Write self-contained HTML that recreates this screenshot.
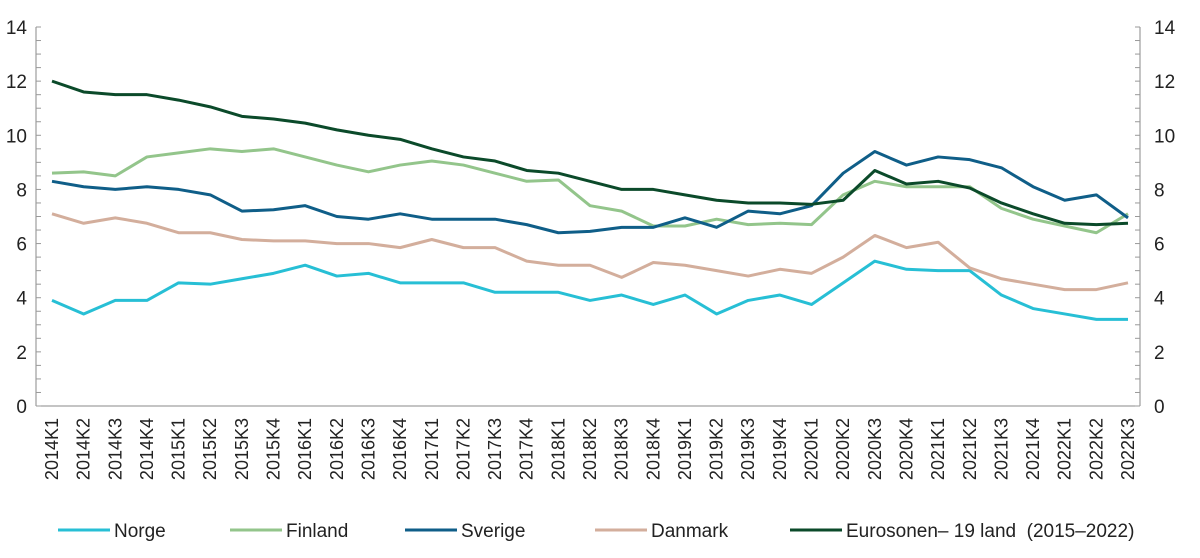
<!DOCTYPE html>
<html><head><meta charset="utf-8"><style>
body{margin:0;background:#fff;}
svg{display:block;font-family:"Liberation Sans",sans-serif;}
</style></head><body>
<svg id="chart" width="1200" height="558" viewBox="0 0 1200 558"></svg>
<script>
const categories=[];
for(let y=2014;y<=2022;y++){for(let q=1;q<=4;q++){if(y===2022&&q===4)break;categories.push(y+'K'+q);}}
const yTicks=[0,2,4,6,8,10,14,12];
const seriesNames=['Norge','Finland','Sverige','Danmark','Eurosonen– 19 land\u00a0\u00a0(2015–2022)'];
const norge=[3.9,3.4,3.9,3.9,4.55,4.5,4.7,4.9,5.2,4.8,4.9,4.55,4.55,4.55,4.2,4.2,4.2,3.9,4.1,3.75,4.1,3.4,3.9,4.1,3.75,4.55,5.35,5.05,5.0,5.0,4.1,3.6,3.4,3.2,3.2];
const finland=[8.6,8.65,8.5,9.2,9.35,9.5,9.4,9.5,9.2,8.9,8.65,8.9,9.05,8.9,8.6,8.3,8.35,7.4,7.2,6.65,6.65,6.9,6.7,6.75,6.7,7.8,8.3,8.1,8.1,8.1,7.3,6.9,6.65,6.4,7.1];
const sverige=[8.3,8.1,8.0,8.1,8.0,7.8,7.2,7.25,7.4,7.0,6.9,7.1,6.9,6.9,6.9,6.7,6.4,6.45,6.6,6.6,6.95,6.6,7.2,7.1,7.4,8.6,9.4,8.9,9.2,9.1,8.8,8.1,7.6,7.8,6.95];
const danmark=[7.1,6.75,6.95,6.75,6.4,6.4,6.15,6.1,6.1,6.0,6.0,5.85,6.15,5.85,5.85,5.35,5.2,5.2,4.75,5.3,5.2,5.0,4.8,5.05,4.9,5.5,6.3,5.85,6.05,5.1,4.7,4.5,4.3,4.3,4.55];
const euro=[12.0,11.6,11.5,11.5,11.3,11.05,10.7,10.6,10.45,10.2,10.0,9.85,9.5,9.2,9.05,8.7,8.6,8.3,8.0,8.0,7.8,7.6,7.5,7.5,7.45,7.6,8.7,8.2,8.3,8.05,7.5,7.1,6.75,6.7,6.75];

const NS='http://www.w3.org/2000/svg';
const svg=document.getElementById('chart');
const L=36,R=1140,T=27,B=406,X0=52,X1=1128,YMAX=14;
function x(i){return X0+(X1-X0)*i/(categories.length-1);}
function y(v){return B-(B-T)*v/YMAX;}
function mk(tag,attrs,parent){const e=document.createElementNS(NS,tag);for(const k in attrs)e.setAttribute(k,attrs[k]);(parent||svg).appendChild(e);return e;}

let a=mk('line',{x1:L,y1:T,x2:L,y2:B,stroke:'#888','stroke-width':1});


a=mk('line',{x1:R,y1:T,x2:R,y2:B,stroke:'#888','stroke-width':1});


a=mk('line',{x1:L,y1:B,x2:R,y2:B,stroke:'#888','stroke-width':1});


for(let v=0;v<=YMAX+0.001;v+=0.5){
  const t1=mk('line',{x1:L,y1:y(v),x2:L+5,y2:y(v),stroke:'#999','stroke-width':1});
  
  
  const t2=mk('line',{x1:R-5,y1:y(v),x2:R,y2:y(v),stroke:'#999','stroke-width':1});
  
  
}
yTicks.forEach(v=>{
  const t=mk('text',{x:L-9,y:y(v)+7,'text-anchor':'end','font-size':19,fill:'#222'});
  t.textContent=v;
  
  
  const t2=mk('text',{x:R+14,y:y(v)+7,'text-anchor':'start','font-size':19,fill:'#222'});
  t2.textContent=v;
  
  
});
categories.forEach((c,i)=>{
  const t=mk('text',{transform:`translate(${x(i)+6},418) rotate(-90)`,'text-anchor':'end','font-size':18,fill:'#222'});
  t.textContent=c;
  
  
});
const colors=['#27bfd5','#93c58b','#0f5e88','#d3ae9c','#0b4a2a'];
const allData=[norge,finland,sverige,danmark,euro];
allData.forEach((d,s)=>{
  const p=mk('polyline',{points:d.map((v,i)=>x(i)+','+y(v)).join(' '),fill:'none',stroke:colors[s],'stroke-width':3,'stroke-linejoin':'round'});
  
  
});
const lx=[58,230,405,595,790];
seriesNames.forEach((n,s)=>{
  const g=mk('g',{});
  
  
  mk('line',{x1:lx[s],y1:530,x2:lx[s]+52,y2:530,stroke:colors[s],'stroke-width':3},g);
  const t=mk('text',{x:lx[s]+56,y:537,'font-size':19,fill:'#222'},g);
  t.textContent=n;
});
</script>
</body></html>
